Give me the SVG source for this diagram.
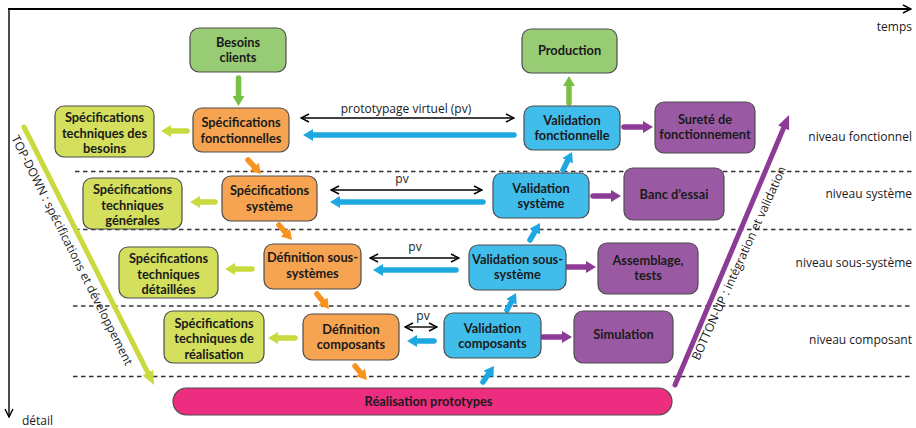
<svg xmlns="http://www.w3.org/2000/svg" width="916" height="428" viewBox="0 0 916 428">
  <style>
    .box{stroke:#4d4d4d;stroke-width:1.2}
    .g{fill:#97cb74}
    .o{fill:#f6a452}
    .y{fill:#d3df5d}
    .b{fill:#41bdec}
    .p{fill:#9a5aa3}
    .k{fill:#ec2d80}
    .t{font-family:Lato,"Open Sans","Liberation Sans",sans-serif;font-size:12.8px;font-weight:bold;fill:#1a1a1a;text-anchor:middle}
    .n{font-family:"Open Sans","Liberation Sans",sans-serif;font-size:12px;fill:#1a1a1a}
    .dash{stroke:#333;stroke-width:1.3;stroke-dasharray:4.5 3.5;fill:none}
    .ar{fill:none;stroke-width:5.5;stroke-linecap:round}
    .thin{fill:none;stroke:#000;stroke-width:1.4}
  </style>
  <defs>
    <marker id="hg" viewBox="0 0 10 12" markerWidth="10" markerHeight="12" refX="1" refY="6" orient="auto" markerUnits="userSpaceOnUse"><path d="M0,0 L10,6 L0,12 z" fill="#78c044"/></marker>
    <marker id="hy" viewBox="0 0 10 12" markerWidth="10" markerHeight="12" refX="1" refY="6" orient="auto" markerUnits="userSpaceOnUse"><path d="M0,0 L10,6 L0,12 z" fill="#c9da3e"/></marker>
    <marker id="ho" viewBox="0 0 10 12" markerWidth="10" markerHeight="12" refX="1" refY="6" orient="auto" markerUnits="userSpaceOnUse"><path d="M0,0 L10,6 L0,12 z" fill="#f7931e"/></marker>
    <marker id="hb" viewBox="0 0 10 12" markerWidth="10" markerHeight="12" refX="1" refY="6" orient="auto" markerUnits="userSpaceOnUse"><path d="M0,0 L10,6 L0,12 z" fill="#1ea8e1"/></marker>
    <marker id="hp" viewBox="0 0 10 12" markerWidth="10" markerHeight="12" refX="1" refY="6" orient="auto" markerUnits="userSpaceOnUse"><path d="M0,0 L10,6 L0,12 z" fill="#8c3b96"/></marker>
    <marker id="bigy" viewBox="0 0 14 12" markerWidth="14" markerHeight="12" refX="1" refY="6" orient="auto" markerUnits="userSpaceOnUse"><path d="M0,0 L14,6 L0,12 z" fill="#c9da3e"/></marker>
    <marker id="bigp" viewBox="0 0 14 12" markerWidth="14" markerHeight="12" refX="1" refY="6" orient="auto" markerUnits="userSpaceOnUse"><path d="M0,0 L14,6 L0,12 z" fill="#8c3b96"/></marker>
    <marker id="open" viewBox="0 0 10 10" markerWidth="10" markerHeight="10" refX="9" refY="5" orient="auto-start-reverse" markerUnits="userSpaceOnUse"><path d="M1,1 L9,5 L1,9" fill="none" stroke="#000" stroke-width="1.4"/></marker>
  </defs>

  <!-- axes -->
  <g id="axes">
    <line x1="8" y1="9" x2="911" y2="9" stroke="#000" stroke-width="2" marker-end="url(#open)"/>
    <line x1="9" y1="9" x2="9" y2="417" stroke="#000" stroke-width="1.4" marker-end="url(#open)"/>
    <text class="n" x="912" y="31" text-anchor="end">temps</text>
    <text class="n" x="22" y="425">détail</text>
  </g>

  <!-- level separators and labels -->
  <g id="levels">
    <line class="dash" x1="75" y1="171.5" x2="913" y2="171.5"/>
    <line class="dash" x1="75" y1="229.5" x2="913" y2="229.5"/>
    <line class="dash" x1="73" y1="306" x2="913" y2="306"/>
    <line class="dash" x1="73" y1="376.5" x2="913" y2="376.5"/>
    <text class="n" x="912" y="141" text-anchor="end">niveau fonctionnel</text>
    <text class="n" x="912" y="198" text-anchor="end">niveau système</text>
    <text class="n" x="912" y="267" text-anchor="end">niveau sous-système</text>
    <text class="n" x="912" y="344" text-anchor="end">niveau composant</text>
  </g>

  <!-- top-down / bottom-up trends -->
  <g id="trends">
    <path d="M24,127 L148.2,373.4" fill="none" stroke="#c9da3e" stroke-width="5" stroke-linecap="round" marker-end="url(#bigy)"/>
    <text class="n" transform="translate(11,138) rotate(63.3)">TOP-DOWN : spécifications et développement</text>
    <path d="M675,385 L784,127" fill="none" stroke="#8c3b96" stroke-width="5" stroke-linecap="round" marker-end="url(#bigp)"/>
    <text class="n" transform="translate(699,361) rotate(-65.6)">BOTTON-UP : intégration et validation</text>
  </g>

  <!-- connectors -->
  <g id="connectors">
    <!-- green -->
    <path class="ar" stroke="#78c044" d="M238.5,78 L238.5,97" marker-end="url(#hg)"/>
    <path class="ar" stroke="#78c044" d="M569,103 L569,85" marker-end="url(#hg)"/>
    <!-- specification outputs -->
    <path class="ar" stroke="#c9da3e" d="M187,131 L170,131" marker-end="url(#hy)"/>
    <path class="ar" stroke="#c9da3e" d="M215,202 L199,202" marker-end="url(#hy)"/>
    <path class="ar" stroke="#c9da3e" d="M252,269 L234,269" marker-end="url(#hy)"/>
    <path class="ar" stroke="#c9da3e" d="M295,338 L277,338" marker-end="url(#hy)"/>
    <!-- descending -->
    <path class="ar" stroke="#f7931e" d="M248,160 L254.9,167.4" marker-end="url(#ho)"/>
    <path class="ar" stroke="#f7931e" d="M279,225 L286.1,233.2" marker-end="url(#ho)"/>
    <path class="ar" stroke="#f7931e" d="M317,294 L323.4,302" marker-end="url(#ho)"/>
    <path class="ar" stroke="#f7931e" d="M355,366 L361.1,373.2" marker-end="url(#ho)"/>
    <!-- ascending -->
    <path class="ar" stroke="#1ea8e1" d="M483,382 L488.9,373.4" marker-end="url(#hb)"/>
    <path class="ar" stroke="#1ea8e1" d="M507,310 L511.8,301" marker-end="url(#hb)"/>
    <path class="ar" stroke="#1ea8e1" d="M530,240 L535.4,230.8" marker-end="url(#hb)"/>
    <path class="ar" stroke="#1ea8e1" d="M563,170 L568,160" marker-end="url(#hb)"/>
    <!-- virtual prototyping feedback -->
    <path class="ar" stroke="#1ea8e1" stroke-width="6" d="M514,135 L312,135" marker-end="url(#hb)"/>
    <path class="ar" stroke="#1ea8e1" stroke-width="6" d="M483,202 L339,202" marker-end="url(#hb)"/>
    <path class="ar" stroke="#1ea8e1" stroke-width="6" d="M456,270 L382,270" marker-end="url(#hb)"/>
    <path class="ar" stroke="#1ea8e1" stroke-width="6" d="M434,341 L416,341" marker-end="url(#hb)"/>
    <line class="thin" x1="301" y1="118" x2="514" y2="118" marker-start="url(#open)" marker-end="url(#open)"/>
    <line class="thin" x1="331" y1="190" x2="482" y2="190" marker-start="url(#open)" marker-end="url(#open)"/>
    <line class="thin" x1="370" y1="258" x2="459" y2="258" marker-start="url(#open)" marker-end="url(#open)"/>
    <line class="thin" x1="405" y1="327" x2="437" y2="327" marker-start="url(#open)" marker-end="url(#open)"/>
    <text class="n" x="406" y="113" text-anchor="middle">prototypage virtuel (pv)</text>
    <text class="n" x="402" y="183" text-anchor="middle">pv</text>
    <text class="n" x="415" y="251" text-anchor="middle">pv</text>
    <text class="n" x="423" y="320" text-anchor="middle">pv</text>
    <!-- test outputs -->
    <path class="ar" stroke="#8c3b96" d="M624,127 L644,127" marker-end="url(#hp)"/>
    <path class="ar" stroke="#8c3b96" d="M593,196 L612,196" marker-end="url(#hp)"/>
    <path class="ar" stroke="#8c3b96" d="M567,267 L587,267" marker-end="url(#hp)"/>
    <path class="ar" stroke="#8c3b96" d="M543,337 L563,337" marker-end="url(#hp)"/>
  </g>

  <!-- nodes -->
  <g id="besoins-clients"><rect class="box g" x="190" y="28" width="96" height="44" rx="9"/><text class="t" x="238" y="46.5">Besoins</text><text class="t" x="238" y="62">clients</text></g>
  <g id="production"><rect class="box g" x="522" y="29" width="95" height="44" rx="9"/><text class="t" x="569.5" y="55">Production</text></g>

  <g id="spec-fonctionnelles"><rect class="box o" x="193" y="108" width="96" height="44" rx="9"/><text class="t" x="241" y="127">Spécifications</text><text class="t" x="241" y="142.5">fonctionnelles</text></g>
  <g id="spec-tech-besoins"><rect class="box y" x="55" y="106" width="99" height="51" rx="9"/><text class="t" x="104.5" y="122">Spécifications</text><text class="t" x="104.5" y="137.5">techniques des</text><text class="t" x="104.5" y="153">besoins</text></g>
  <g id="validation-fonctionnelle"><rect class="box b" x="524" y="106" width="96" height="44" rx="9"/><text class="t" x="572" y="124.5">Validation</text><text class="t" x="572" y="140">fonctionnelle</text></g>
  <g id="surete"><rect class="box p" x="655" y="102" width="100" height="51" rx="9"/><text class="t" x="705" y="123.5">Sureté de</text><text class="t" x="705" y="139">fonctionnement</text></g>

  <g id="spec-systeme"><rect class="box o" x="222" y="176" width="95" height="45" rx="9"/><text class="t" x="269.5" y="195">Spécifications</text><text class="t" x="269.5" y="210.5">système</text></g>
  <g id="spec-tech-generales"><rect class="box y" x="83" y="178" width="99" height="51" rx="9"/><text class="t" x="132.5" y="194">Spécifications</text><text class="t" x="132.5" y="209.5">techniques</text><text class="t" x="132.5" y="225">générales</text></g>
  <g id="validation-systeme"><rect class="box b" x="493" y="173" width="96" height="45" rx="9"/><text class="t" x="541" y="192.5">Validation</text><text class="t" x="541" y="208">système</text></g>
  <g id="banc-essai"><rect class="box p" x="624" y="168" width="100" height="52" rx="9"/><text class="t" x="674" y="198.5">Banc d’essai</text></g>

  <g id="def-sous-systemes"><rect class="box o" x="264" y="244" width="97" height="45" rx="9"/><text class="t" x="312.5" y="262">Définition sous-</text><text class="t" x="312.5" y="277.5">systèmes</text></g>
  <g id="spec-tech-detaillees"><rect class="box y" x="119" y="247" width="99" height="51" rx="9"/><text class="t" x="168.5" y="263">Spécifications</text><text class="t" x="168.5" y="278.5">techniques</text><text class="t" x="168.5" y="294">détaillées</text></g>
  <g id="validation-sous-systeme"><rect class="box b" x="469" y="245" width="97" height="45" rx="9"/><text class="t" x="517.5" y="263.5">Validation sous-</text><text class="t" x="517.5" y="279">système</text></g>
  <g id="assemblage"><rect class="box p" x="598" y="243" width="100" height="51" rx="9"/><text class="t" x="648" y="264.5">Assemblage,</text><text class="t" x="648" y="280">tests</text></g>

  <g id="def-composants"><rect class="box o" x="303" y="314" width="96" height="46" rx="9"/><text class="t" x="351" y="333.5">Définition</text><text class="t" x="351" y="349">composants</text></g>
  <g id="spec-tech-realisation"><rect class="box y" x="164" y="311" width="100" height="52" rx="9"/><text class="t" x="214" y="327.5">Spécifications</text><text class="t" x="214" y="343">techniques de</text><text class="t" x="214" y="358.5">réalisation</text></g>
  <g id="validation-composants"><rect class="box b" x="444" y="313" width="97" height="45" rx="9"/><text class="t" x="492.5" y="332.5">Validation</text><text class="t" x="492.5" y="348">composants</text></g>
  <g id="simulation"><rect class="box p" x="574" y="311" width="99" height="52" rx="9"/><text class="t" x="623.5" y="338.5">Simulation</text></g>

  <g id="realisation-prototypes"><rect class="box k" x="173" y="388" width="499" height="27" rx="13.5" stroke="#333"/><text class="t" x="428.5" y="405.5">Réalisation prototypes</text></g>
</svg>
